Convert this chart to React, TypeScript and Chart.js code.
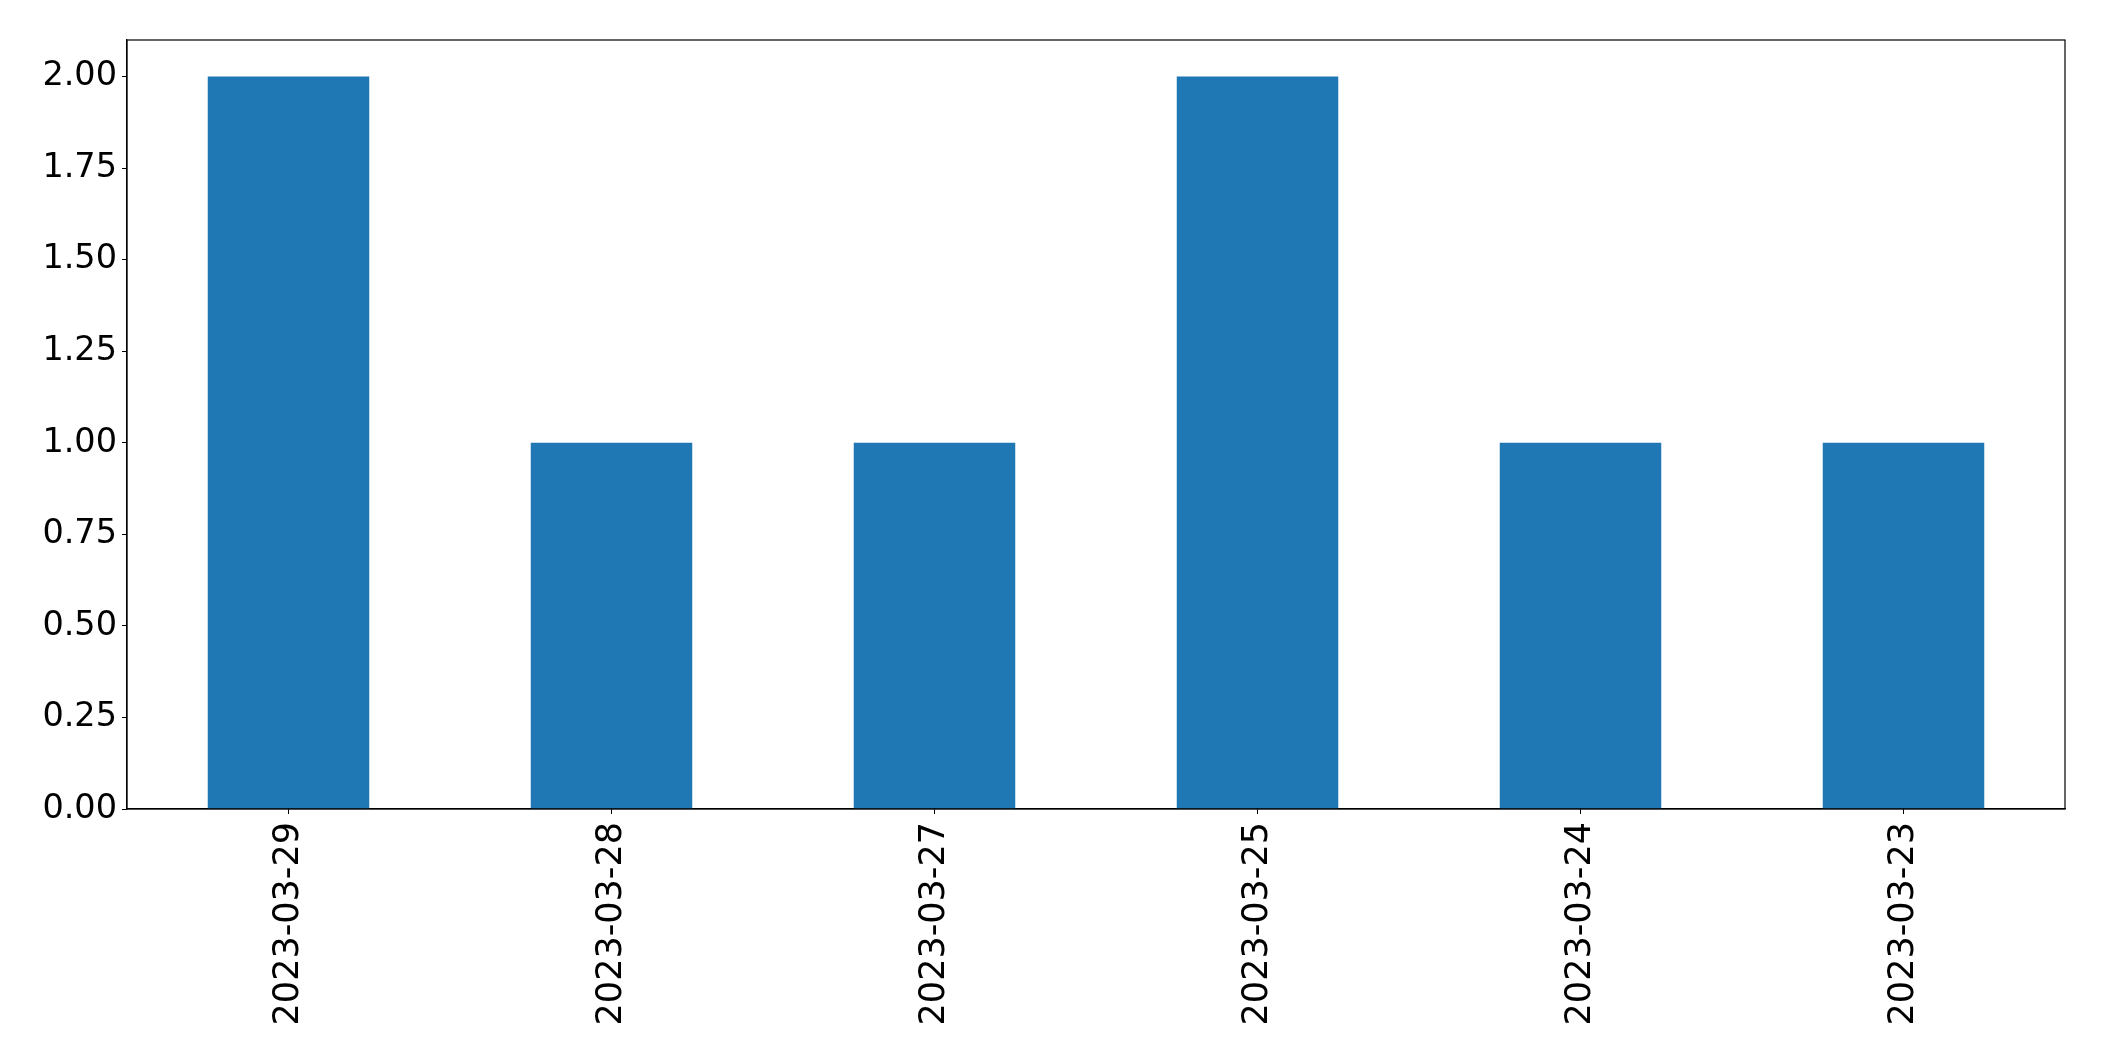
import React, { useEffect, useRef } from "react";
import { Chart, registerables } from "chart.js";

Chart.register(...registerables);

const categories = ["2023-03-29", "2023-03-28", "2023-03-27", "2023-03-25", "2023-03-24", "2023-03-23"];
const counts = [2, 1, 1, 2, 1, 1];
const yTickValues = [0, 0.25, 0.5, 0.75, 1.0, 1.25, 1.5, 1.75, 2.0];

const W = 2104;
const H = 1061;
const LEFT = 127;
const RIGHT = 2065;
const TOP = 40;
const BOTTOM = 809;

const frame = {
  id: "frame",
  afterDraw(chart: any) {
    const { ctx, chartArea } = chart;
    ctx.save();
    ctx.strokeStyle = "#000";
    ctx.lineWidth = 1.2;
    ctx.strokeRect(chartArea.left, chartArea.top, chartArea.right - chartArea.left, chartArea.bottom - chartArea.top);
    ctx.restore();
  },
};

export default function App() {
  const ref = useRef<HTMLCanvasElement | null>(null);
  useEffect(() => {
    document.body.style.margin = "0";
    const xFont = { family: "'DejaVu Sans'", size: 35 };
    const yFont = { family: "'DejaVu Sans'", size: 33.5 };
    const chart = new Chart(ref.current as HTMLCanvasElement, {
      type: "bar",
      data: {
        labels: categories,
        datasets: [
          {
            data: counts,
            backgroundColor: "#1f77b4",
            categoryPercentage: 1,
            barPercentage: 0.5,
          },
        ],
      },
      plugins: [frame],
      options: {
        animation: false,
        responsive: false,
        devicePixelRatio: 1,
        layout: { padding: { left: 0, top: TOP, right: W - RIGHT, bottom: 0 } },
        plugins: { legend: { display: false }, tooltip: { enabled: false } },
        scales: {
          x: {
            offset: true,
            grid: { offset: false, drawOnChartArea: false, drawTicks: true, tickLength: 5, color: "#000" },
            border: { display: true, color: "#000", width: 1.2 },
            ticks: { font: xFont, color: "#000", maxRotation: 90, minRotation: 90, padding: 8, autoSkip: false },
            afterFit(scale: any) {
              scale.height = H - BOTTOM;
            },
          },
          y: {
            min: 0,
            max: 2.1,
            grid: { drawOnChartArea: false, drawTicks: true, tickLength: 5, color: "#000" },
            border: { display: true, color: "#000", width: 1.2 },
            ticks: {
              font: yFont,
              color: "#000",
              padding: 5,
              callback: (v: any) => Number(v).toFixed(2),
            },
            afterBuildTicks(scale: any) {
              scale.ticks = yTickValues.map((v) => ({ value: v }));
            },
            afterFit(scale: any) {
              scale.width = LEFT;
            },
          },
        },
      },
    });
    return () => chart.destroy();
  }, []);
  return (
    <div style={{ width: W, height: H }}>
      <canvas ref={ref} width={W} height={H} style={{ width: W, height: H, display: "block" }} />
    </div>
  );
}
